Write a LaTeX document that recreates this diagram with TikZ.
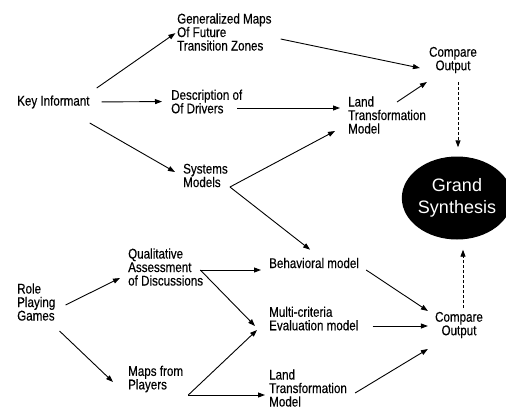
\documentclass[tikz,border=0pt]{standalone}
\usepackage{fontspec}
\setmainfont{Liberation Sans}
\newfontfamily\narrowfont{Liberation Sans}[FakeStretch=0.83,FakeBold=0.3]
\usetikzlibrary{arrows.meta,shapes.geometric}
\begin{document}
\begin{tikzpicture}[x=1pt,y=-1pt,
	txt/.style={font=\narrowfont\fontsize{14}{13.5}\selectfont, align=left, inner sep=0pt, anchor=west},
	arr/.style={-{Triangle[length=7pt,width=5pt]}, line width=0.9pt},
	dasharr/.style={arr, dash pattern=on 3pt off 2pt}]
	\useasboundingbox (0,0) rectangle (506,408);
	% key informant branch
	\node[txt] (ki) at (17,102) {Key Informant};
	\node[txt] (gm) at (177,32) {Generalized Maps\\Of Future\\Transition Zones};
	\node[txt] (desc) at (171,101.5) {Description of\\Of Drivers};
	\node[txt] (sys) at (183,175.5) {Systems\\Models};
	\node[txt] (ltm1) at (348,115) {Land\\Transformation\\Model};
	\node[txt, align=center, anchor=center] (co1) at (453,60) {Compare\\Output};
	\node[ellipse, fill=black, minimum width=98pt, minimum height=83pt, inner sep=0pt, text=white, align=center, font=\fontsize{18}{22}\selectfont] (gs) at (457,198) {Grand\\Synthesis};
	% role playing branch
	\node[txt] (rpg) at (17,302) {Role\\Playing\\Games};
	\node[txt] (qual) at (128,267) {Qualitative\\Assessment\\of Discussions};
	\node[txt] (maps) at (128,379) {Maps from\\Players};
	\node[txt] (beh) at (269,263) {Behavioral model};
	\node[txt] (mce) at (269,318.5) {Multi-criteria\\Evaluation model};
	\node[txt] (ltm2) at (269,388) {Land\\Transformation\\Model};
	\node[txt, align=center, anchor=center] (co2) at (459,325) {Compare\\Output};
	% fork points
	\coordinate (sysfork) at ([shift={(2,11.5)}]sys.east);
	\coordinate (qualfork) at ([shift={(-3,3)}]qual.east);
	\coordinate (mapsfork) at ([shift={(5,16)}]maps.east);
	% upper connectors
	\draw[arr, shorten >=2pt] ([shift={(7,-14)}]ki.east) -- (gm.west);
	\draw[arr, shorten <=12pt, shorten >=9pt] (ki.east) -- (desc.west);
	\draw[arr] ([shift={(0,21)}]ki.east) -- ([shift={(-8,-3.5)}]sys.west);
	\draw[arr] ([shift={(9,7)}]gm.east) -- ([shift={(-9,8)}]co1.west);
	\draw[arr] ([shift={(-5,6.5)}]desc.east) -- ([shift={(-8,-7)}]ltm1.west);
	\draw[arr] (sysfork) -- ([shift={(-13,16)}]ltm1.west);
	\draw[arr] (sysfork) -- ([shift={(-4,-8)}]beh.north);
	\draw[arr] ([shift={(49,-13)}]ltm1.west) -- ([shift={(-2,22)}]co1.west);
	\draw[dasharr] ([shift={(5,9)}]co1.south) -- ([shift={(1,-9)}]gs.north);
	% lower connectors
	\draw[arr] ([shift={(10,3)}]rpg.east) -- ([shift={(-8,11)}]qual.west);
	\draw[arr] ([shift={(4,29)}]rpg.east) -- ([shift={(-15,3)}]maps.west);
	\draw[arr, shorten >=8pt] (qualfork) -- (qualfork -| beh.west);
	\draw[arr] (qualfork) -- ([shift={(-14,7.5)}]mce.west);
	\draw[arr] (mapsfork) -- ([shift={(-12,11.5)}]mce.west);
	\draw[arr, shorten >=4pt] (mapsfork) -- (mapsfork -| ltm2.west);
	\draw[arr] ([shift={(7,7)}]beh.east) -- ([shift={(-7,-14)}]co2.west);
	\draw[arr] ([shift={(14,7.5)}]mce.east) -- ([shift={(-7,1)}]co2.west);
	\draw[arr] ([shift={(8,5)}]ltm2.east) -- ([shift={(-7,24)}]co2.west);
	\draw[dasharr] ([shift={(4,-4)}]co2.north) -- ([shift={(6,10)}]gs.south);
\end{tikzpicture}
\end{document}
